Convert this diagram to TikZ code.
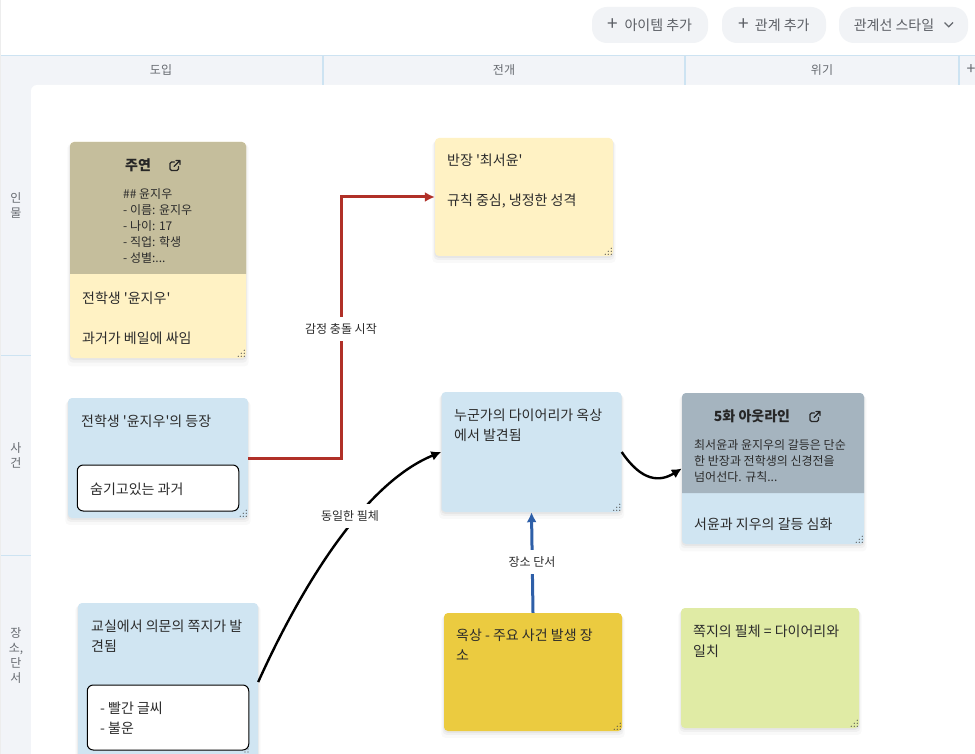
\documentclass[tikz,border=0pt]{standalone}
\usepackage{fontspec}
\setmainfont{Noto Sans CJK KR}[Ligatures=TeXOff]
\usetikzlibrary{arrows.meta,shadows}
\definecolor{laneBg}{HTML}{F2F4F8}
\definecolor{laneLine}{HTML}{CDE3F2}
\definecolor{noteYellow}{HTML}{FFF2C4}
\definecolor{noteBlue}{HTML}{D0E5F2}
\definecolor{noteGold}{HTML}{EBCB40}
\definecolor{noteGreen}{HTML}{E0EBA5}
\definecolor{headTan}{HTML}{C5BE9C}
\definecolor{headSlate}{HTML}{A5B4BF}
\definecolor{inkDark}{HTML}{2B2B2B}
\definecolor{inkGray}{HTML}{666A70}
\definecolor{lineRed}{HTML}{B03028}
\definecolor{lineBlue}{HTML}{2E5FA8}
\definecolor{pillBg}{HTML}{F1F3F6}
\newcommand{\plusmark}{{\fontsize{19}{16}\selectfont +}\hspace{6pt}}
\tikzset{
  x=1pt,y=-1pt,
  card/.style={rectangle,rounded corners=4pt,inner sep=0pt,
    drop shadow={shadow xshift=0pt,shadow yshift=-5pt,opacity=.025,fill=black,shadow scale=1.03},
    drop shadow={shadow xshift=0pt,shadow yshift=-3pt,opacity=.035,fill=black,shadow scale=1.015},
    drop shadow={shadow xshift=0pt,shadow yshift=-1.5pt,opacity=.04,fill=black,shadow scale=1.005}},
  inset/.style={rectangle,rounded corners=6pt,draw=black,line width=1pt,fill=white,inner sep=0pt},
  body/.style={anchor=north west,inner sep=0pt,align=left,text=inkDark,font=\fontsize{14}{20}\selectfont},
  small/.style={anchor=north west,inner sep=0pt,align=left,text=inkDark,font=\fontsize{12}{16}\selectfont},
  title/.style={inner sep=0pt,text=black!85,font=\fontsize{14}{20}\selectfont\bfseries},
  collabel/.style={inner sep=0pt,text=inkGray,font=\fontsize{12}{16}\selectfont},
  rowlabel/.style={inner sep=0pt,align=center,text=inkGray,font=\fontsize{12}{15}\selectfont},
  pill/.style={rectangle,rounded corners=15pt,fill=pillBg,inner sep=0pt,minimum height=36pt,text=inkGray!90!black,font=\fontsize{14}{16}\selectfont},
  rel/.style={line width=3pt,-{Latex[length=10pt,width=10pt]}},
  curve/.style={line width=2.4pt,black,-{Latex[length=10pt,width=10pt]}},
  rellabel/.style={fill=white,inner sep=0pt,minimum height=24pt,text=inkDark,font=\fontsize{12}{16}\selectfont},
  grip/.pic={\fill[black!70] (-2,-2) circle(.6) (-5,-2) circle(.6) (-8,-2) circle(.6) (-2,-5) circle(.6) (-5,-5) circle(.6) (-2,-8) circle(.6);},
  linkicon/.pic={\draw[black!85,line width=1.3pt,line cap=round,line join=round]
     (-.5,-3.5) [rounded corners=1.5pt] -- (-5,-3.5) -- (-5,5) -- (3.5,5) [sharp corners] -- (3.5,1)
     (-1,1) -- (5,-5) (1,-5) -- (5,-5) -- (5,-1);},
}
\begin{document}
\begin{tikzpicture}
\useasboundingbox (0,0) rectangle (975,754);
\clip (0,0) rectangle (975,754);
\fill[white] (0,0) rectangle (975,754);
% lane frame
\fill[laneBg] (1,56) rectangle (975,754);
\fill[white] (31,754) [rounded corners=6pt] -- (31,85) [sharp corners] -- (975,85) -- (975,754) -- cycle;
\draw[laneLine,line width=1pt] (1,55.5) -- (975,55.5);
\draw[black!7,line width=.8pt] (.8,0) -- (.8,754);
\foreach \px in {323,685,959} \draw[laneLine,line width=1.6pt] (\px,56) -- (\px,85);
\foreach \py in {355,555} \draw[laneLine,line width=1pt] (1,\py) -- (31,\py);
\node[collabel] (colA) at (161,70) {도입};
\node[collabel] (colB) at (504,70) {전개};
\node[collabel] (colC) at (822,70) {위기};
\node[inner sep=0pt,text=inkGray,font=\fontsize{16}{16}\selectfont] (colAdd) at (971,70) {+};
\node[rowlabel] (rowA) at (16,205) {인\\물};
\node[rowlabel] (rowB) at (16,455) {사\\건};
\node[rowlabel] (rowC) at (16,655.5) {장\\소,\\단\\서};
% toolbar
\node[pill,minimum width=116pt] (btnA) at (650,25) {\plusmark 아이템 추가};
\node[pill,minimum width=104pt] (btnB) at (774,25) {\plusmark 관계 추가};
\node[pill,minimum width=129pt] (btnC) at (903.5,25) {관계선 스타일\hspace*{19pt}};
\draw[inkGray,line width=1.2pt] (944.5,22.5) -- (948.8,26.8) -- (953,22.5);
% cards
\node[card,fill=noteYellow,minimum width=176pt,minimum height=216pt] (hero) at (158,250) {};
\fill[headTan] (70,274) [rounded corners=4pt] -- (70,142) -- (246,142) [sharp corners] -- (246,274) -- cycle;
\node[title] (heroT) at (138,165.5) {주연};
\pic at (175,165.5) {linkicon};
\node[small] (heroH) at (123,188) {\#\# 윤지우\\- 이름: 윤지우\\- 나이: 17\\- 직업: 학생\\- 성별:...};
\node[body] (heroB) at (82,292) {전학생 '윤지우'\\[20pt]과거가 베일에 싸임};
\pic at (hero.south east) {grip};

\node[card,fill=noteYellow,minimum width=178pt,minimum height=118pt] (captain) at (524,197) {};
\node[body] (captainB) at (447,154) {반장 '최서윤'\\[20pt]규칙 중심, 냉정한 성격};
\pic at (captain.south east) {grip};

\node[card,fill=noteBlue,minimum width=180pt,minimum height=120pt] (arrive) at (158,458) {};
\node[body] (arriveB) at (81,415) {전학생 '윤지우'의 등장};
\node[inset,minimum width=161.5pt,minimum height=46pt] (arriveI) at (158,488) {};
\node[body] (arriveT) at (90,482.5) {숨기고있는 과거};
\pic at (arrive.south east) {grip};

\node[card,fill=noteBlue,minimum width=180pt,minimum height=158pt] (note) at (168,682) {};
\node[body] (noteB) at (91,620) {교실에서 의문의 쪽지가 발\\견됨};
\node[inset,minimum width=161.5pt,minimum height=65pt] (noteI) at (168,717.5) {};
\node[body] (noteT) at (100,702) {- 빨간 글씨\\- 불운};
\pic at (250,757) {grip};

\node[card,fill=noteBlue,minimum width=180pt,minimum height=120pt] (diary) at (531.5,452) {};
\node[body] (diaryB) at (454,409) {누군가의 다이어리가 옥상\\에서 발견됨};
\pic at (diary.south east) {grip};

\node[card,fill=noteBlue,minimum width=182pt,minimum height=151pt] (ep) at (773,468.5) {};
\fill[headSlate] (682,493) [rounded corners=4pt] -- (682,393) -- (864,393) [sharp corners] -- (864,493) -- cycle;
\node[title] (epT) at (752,416.5) {5화 아웃라인};
\pic at (815,416.5) {linkicon};
\node[small] (epH) at (694,439) {최서윤과 윤지우의 갈등은 단순\\한 반장과 전학생의 신경전을\\넘어선다. 규칙...};
\node[body] (epB) at (694,517.5) {서윤과 지우의 갈등 심화};
\pic at (ep.south east) {grip};

\node[card,fill=noteGold,minimum width=178pt,minimum height=118pt] (roof) at (533,672) {};
\node[body] (roofB) at (456,629) {옥상 - 주요 사건 발생 장\\소};
\pic at (roof.south east) {grip};

\node[card,fill=noteGreen,minimum width=178pt,minimum height=120pt] (hand) at (770,668) {};
\node[body] (handB) at (693,625) {쪽지의 필체 = 다이어리와\\일치};
\pic at (hand.south east) {grip};
% connectors
\draw[rel,lineRed] (arrive.east) -- (341,458) -- (341,197) -- (captain.west);
\node[rellabel] (lblA) at (341,328.5) {감정 충돌 시작};
\draw[curve] (note.east) .. controls (302,585) and (365,483) .. (diary.west);
\node[rellabel] (lblB) at (350,516) {동일한 필체};
\draw[rel,lineBlue] (roof.north) -- (diary.south);
\node[rellabel] (lblC) at (532,562) {장소 단서};
\draw[curve] (diary.east) .. controls (642,482) and (660,482) .. (ep.west);
\end{tikzpicture}
\end{document}
